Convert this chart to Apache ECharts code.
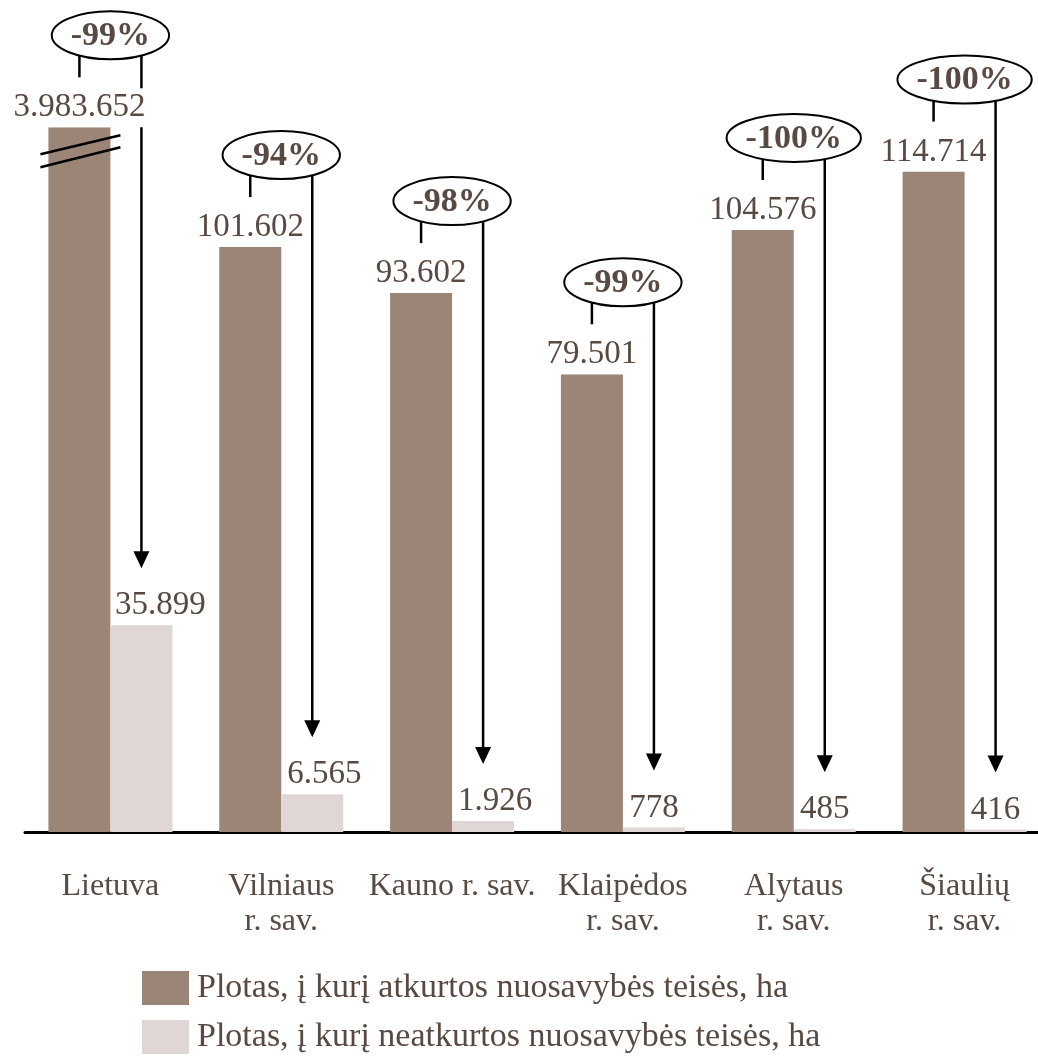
<!DOCTYPE html>
<html><head><meta charset="utf-8">
<script src="https://cdn.jsdelivr.net/npm/echarts@6/dist/echarts.min.js"></script>
<style>html,body{margin:0;padding:0;background:#fff}#c{width:1038px;height:1057px}</style>
</head><body><div id="c"></div>
<script>
// ---- data ----
const categories = ['Lietuva', 'Vilniaus\nr. sav.', 'Kauno r. sav.', 'Klaipėdos\nr. sav.', 'Alytaus\nr. sav.', 'Šiaulių\nr. sav.'];
const restored = [3983652, 101602, 93602, 79501, 104576, 114714];
const notRestored = [35899, 6565, 1926, 778, 485, 416];
const changeLabels = ['-99%', '-94%', '-98%', '-99%', '-100%', '-100%'];
const seriesNames = ['Plotas, į kurį atkurtos nuosavybės teisės, ha', 'Plotas, į kurį neatkurtos nuosavybės teisės, ha'];
const brokenBarShownAt = 122400; // Lietuva bar is cut (axis break)
const yMax = 140000;

// ---- style ----
const FONT = '"Liberation Serif", "Times New Roman", serif';
const TXT = '#584a42';
const DARK = '#9b8576';
const LIGHT = '#e0d6d6';
const lightLabelShift = [19, 12, 12, 0, 0, 0];
const PCT_SIZE = 34;

const fmt = v => String(v).replace(/\B(?=(\d{3})+(?!\d))/g, '.');
const shown = restored.map(v => Math.min(v, brokenBarShownAt));

const mctx = document.createElement('canvas').getContext('2d');
mctx.font = 'bold ' + PCT_SIZE + 'px "Liberation Serif"';

function renderAnno(params, api) {
  const i = api.value(0);
  const top = api.coord([i, api.value(1)]);
  const lt = api.coord([i, api.value(2)]);
  const cx = top[0];
  const half = 31;
  const xl = cx - half, xr = cx + half;
  const cy = top[1] - 92;
  const ry = 24;
  const txt = changeLabels[i];
  const rx = mctx.measureText(txt).width / 2 + 19;
  const tip = lt[1] - 57;
  const lineStyle = { stroke: '#000', lineWidth: 2.5 };
  return {
    type: 'group',
    children: [
      { type: 'line', shape: { x1: xl, y1: cy + ry * 0.6, x2: xl, y2: top[1] - 50 }, style: lineStyle },
      { type: 'line', shape: { x1: xr, y1: cy + ry * 0.6, x2: xr, y2: tip - 16 }, style: lineStyle },
      { type: 'polygon', shape: { points: [[xr - 8, tip - 17], [xr + 8, tip - 17], [xr, tip]] }, style: { fill: '#000' } },
      { type: 'ellipse', z2: 5, shape: { cx: cx, cy: cy, rx: rx, ry: ry }, style: { fill: '#fff', stroke: '#000', lineWidth: 2 } },
      { type: 'text', z2: 6, style: { text: txt, x: cx, y: cy + 1, align: 'center', verticalAlign: 'middle', fontSize: PCT_SIZE, fontWeight: 'bold', fontFamily: FONT, fill: TXT } }
    ]
  };
}

function renderBreak(params, api) {
  const i = api.value(0);
  if (restored[i] <= brokenBarShownAt) return null;
  const top = api.coord([i, api.value(1)]);
  const xl = top[0] - 31;
  const y = top[1];
  const s = { stroke: '#000', lineWidth: 2.5 };
  return {
    type: 'group',
    children: [
      { type: 'line', shape: { x1: xl - 39, y1: y + 27, x2: xl + 41, y2: y + 8 }, style: s },
      { type: 'line', shape: { x1: xl - 39, y1: y + 40, x2: xl + 41, y2: y + 20 }, style: s }
    ]
  };
}

const labelBase = { show: true, position: 'top', distance: 0, fontSize: 33, fontFamily: FONT, color: TXT, lineHeight: 33 };

const chart = echarts.init(document.getElementById('c'), null, { renderer: 'canvas' });
chart.setOption({
  animation: false,
  backgroundColor: '#fff',
  grid: { left: 25, top: 26, width: 1025, height: 806, containLabel: false, outerBoundsMode: 'none' },
  xAxis: {
    type: 'category', data: categories,
    axisLine: { lineStyle: { color: '#000', width: 3 } },
    axisTick: { show: false },
    axisLabel: { interval: 0, margin: 37, fontSize: 32, lineHeight: 35, fontFamily: FONT, color: TXT }
  },
  yAxis: { type: 'value', min: 0, max: yMax, show: false, splitLine: { show: false } },
  legend: {
    orient: 'vertical', left: 142, top: 971, padding: 0,
    itemWidth: 47, itemHeight: 34, itemGap: 15, itemStyle: { borderWidth: 0 },
    icon: 'rect', data: seriesNames, selectedMode: false,
    textStyle: { fontSize: 34, lineHeight: 34, fontFamily: FONT, color: TXT, padding: [0, 0, 0, 3] }
  },
  series: [
    {
      type: 'custom', z: 1, silent: true, clip: false, renderItem: renderAnno,
      encode: { x: 0, y: 1 },
      data: categories.map((c, i) => [i, shown[i], notRestored[i]])
    },
    {
      name: seriesNames[0], type: 'bar', z: 2, barWidth: 62, barGap: '0%',
      itemStyle: { color: DARK }, emphasis: { disabled: true },
      label: Object.assign({}, labelBase, { backgroundColor: '#fff', padding: [3, 3, 3, 3], formatter: p => fmt(restored[p.dataIndex]) }),
      data: shown
    },
    {
      name: seriesNames[1], type: 'bar', z: 2, barWidth: 62, barGap: '0%',
      itemStyle: { color: LIGHT }, emphasis: { disabled: true },
      label: Object.assign({}, labelBase, { padding: [3, 0, 3, 0], formatter: p => fmt(notRestored[p.dataIndex]) }),
      data: notRestored.map((v, i) => ({ value: v, label: { offset: [lightLabelShift[i], 0] } }))
    },
    {
      type: 'custom', z: 5, silent: true, clip: false, renderItem: renderBreak,
      encode: { x: 0, y: 1 },
      data: categories.map((c, i) => [i, shown[i]])
    }
  ]
});
</script></body></html>
